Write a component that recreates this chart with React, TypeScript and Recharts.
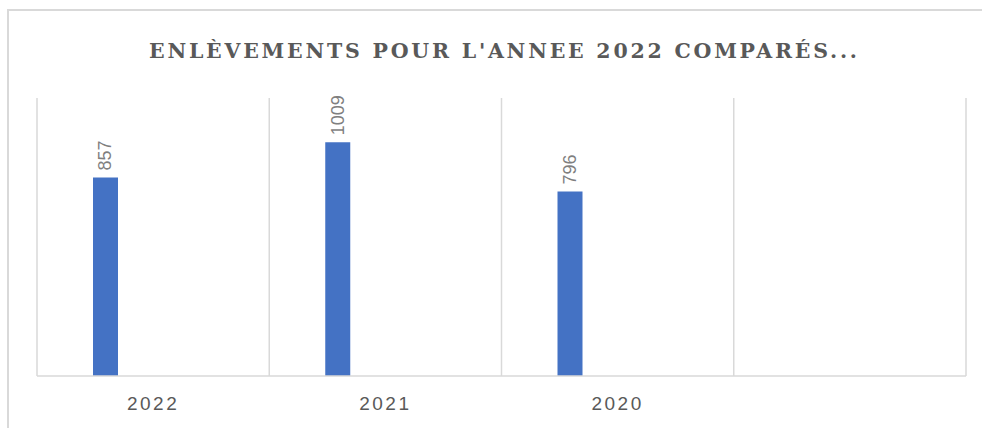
import React from 'react';
import { BarChart, Bar, XAxis, YAxis, CartesianGrid, LabelList } from 'recharts';

const categories = ['2022', '2021', '2020', ''];
const enlevements = [857, 1009, 796, null];
const secondSeries = [null, null, null, null];
const titleText = "ENLÈVEMENTS POUR L'ANNEE 2022 COMPARÉS...";

const data = categories.map((c, i) => ({ cat: c, value: enlevements[i], other: secondSeries[i] }));

const renderLabel = (props: any) => {
  const { x, y, width, value } = props;
  if (value == null) return null;
  const cx = Number(x) + Number(width) / 2;
  const cy = Number(y) - 7;
  return (
    <text
      x={cx}
      y={cy}
      transform={`rotate(-90, ${cx}, ${cy})`}
      textAnchor="start"
      dominantBaseline="central"
      fill="#7f7f7f"
      fontSize={18}
      fontFamily="Liberation Sans, Arial, sans-serif"
    >
      {value}
    </text>
  );
};

export default function App() {
  return (
    <div>
      <div
        style={{
          position: 'absolute',
          left: 7,
          top: 9,
          width: 975,
          height: 419,
          borderLeft: '2px solid #d9d9d9',
          borderTop: '2px solid #d9d9d9',
          boxSizing: 'border-box',
        }}
      />
      <div style={{ position: 'absolute', left: 0, top: 0, width: 982, height: 428 }}>
        <BarChart
          width={982}
          height={428}
          data={data}
          margin={{ top: 98, right: 16, bottom: 22, left: 37 }}
          barCategoryGap={56}
          barGap={70}
        >
          <CartesianGrid
            horizontal={false}
            stroke="#d9d9d9"
            strokeWidth={1.5}
            verticalCoordinatesGenerator={({ offset }: any) =>
              [0, 1, 2, 3, 4].map((i) => offset.left + (i * offset.width) / 4)
            }
          />
          <XAxis
            dataKey="cat"
            height={30}
            tickLine={false}
            tickSize={0}
            tickMargin={21}
            axisLine={{ stroke: '#d9d9d9', strokeWidth: 1.5 }}
            tick={{ fill: '#595959', fontSize: 19, letterSpacing: 2.5, fontFamily: 'Liberation Sans, Arial, sans-serif' }}
            interval={0}
          />
          <YAxis hide domain={[0, 1200]} />
          <Bar dataKey="value" fill="#4472c4" isAnimationActive={false}>
            <LabelList dataKey="value" content={renderLabel} />
          </Bar>
          <Bar dataKey="other" fill="#ed7d31" isAnimationActive={false} />
        </BarChart>
      </div>
      <svg style={{ position: 'absolute', left: 0, top: 0 }} width={982} height={80}>
        <text
          x={503}
          y={58}
          textAnchor="middle"
          textLength={708}
          lengthAdjust="spacing"
          fontFamily="DejaVu Serif, Liberation Serif, serif"
          fontWeight="bold"
          fontSize={20.5}
          fill="#595959"
        >
          {titleText}
        </text>
      </svg>
    </div>
  );
}
